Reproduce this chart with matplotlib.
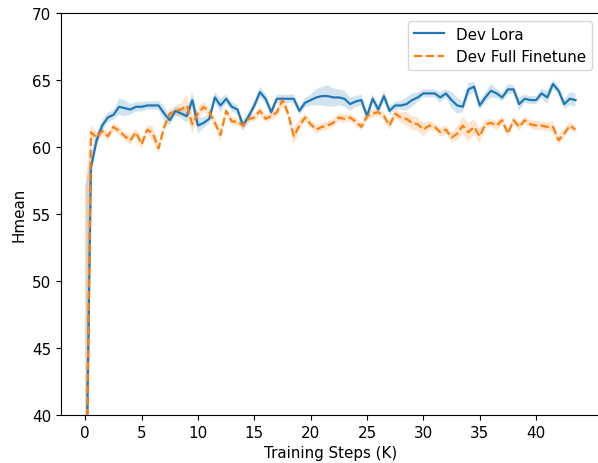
import numpy as np
import matplotlib
matplotlib.use("Agg")
import matplotlib.pyplot as plt

# training steps in K (every 0.5K)
steps = np.arange(0, 44, 0.5)

lora_mean = [30.0, 58.5, 60.5, 61.6, 62.2, 62.4, 63.0, 62.9, 62.8, 63.0,
             63.0, 63.1, 63.1, 63.1, 62.5, 62.0, 62.7, 62.5, 62.3, 63.5,
             61.6, 61.8, 62.1, 63.7, 63.1, 63.6, 63.0, 62.8, 61.6, 62.3,
             63.1, 64.1, 63.6, 62.6, 63.6, 63.6, 63.6, 63.6, 62.7, 63.3,
             63.5, 63.7, 63.8, 63.8, 63.7, 63.7, 63.6, 63.2, 63.4, 63.5,
             62.3, 63.6, 62.8, 63.8, 62.7, 63.1, 63.1, 63.2, 63.5, 63.7,
             64.0, 64.0, 64.0, 63.7, 64.0, 63.5, 63.1, 63.0, 64.3, 64.5,
             63.1, 63.7, 64.2, 64.0, 63.7, 64.3, 64.3, 63.2, 63.6, 63.5,
             63.5, 64.0, 63.7, 64.7, 64.2, 63.2, 63.6, 63.5]

full_mean = [29.0, 61.1, 60.7, 61.2, 60.8, 61.5, 61.2, 60.8, 60.5, 61.1,
             60.2, 61.3, 61.0, 59.9, 61.5, 62.5, 62.7, 62.8, 63.1, 61.7,
             62.5, 63.0, 62.6, 61.8, 60.9, 62.7, 61.9, 61.9, 61.6, 62.1,
             62.2, 62.7, 62.1, 62.3, 62.6, 63.5, 62.5, 60.8, 61.6, 62.2,
             61.7, 61.3, 61.5, 61.6, 61.8, 62.2, 62.1, 62.2, 61.9, 61.5,
             62.3, 62.5, 62.6, 62.3, 61.6, 62.5, 62.2, 62.1, 61.8, 61.7,
             61.3, 61.6, 61.5, 61.1, 61.3, 60.7, 61.0, 61.6, 61.1, 61.5,
             60.8, 61.7, 61.8, 61.6, 62.0, 61.0, 62.0, 61.5, 62.0, 61.7,
             61.6, 61.6, 61.5, 61.5, 60.5, 61.0, 61.6, 61.3]

# half width of the shaded band
lora_err = [27.0, 1.0, 0.5, 0.4, 0.35, 0.35, 0.6, 0.6, 0.4, 0.35,
            0.35, 0.3, 0.3, 0.35, 0.5, 0.4, 0.35, 0.35, 0.5, 0.6,
            0.6, 0.4, 0.35, 0.4, 0.5, 0.35, 0.35, 0.35, 0.4, 0.35,
            0.35, 0.4, 0.35, 0.35, 0.3, 0.3, 0.3, 0.35, 0.3, 0.35,
            0.4, 0.6, 0.7, 0.8, 0.7, 0.6, 0.6, 0.5, 0.4, 0.4,
            0.4, 0.35, 0.35, 0.4, 0.35, 0.3, 0.3, 0.5, 0.5, 0.35,
            0.3, 0.3, 0.3, 0.4, 0.3, 0.6, 0.6, 0.4, 0.5, 0.35,
            0.35, 0.35, 0.5, 0.35, 0.3, 0.4, 0.3, 0.5, 0.3, 0.3,
            0.3, 0.35, 0.5, 0.35, 0.3, 0.35, 0.5, 0.5]

full_err = [28.0, 0.6, 0.4, 0.3, 0.3, 0.3, 0.3, 0.3, 0.35, 0.3,
            0.4, 0.3, 0.6, 0.4, 0.35, 0.3, 0.35, 0.5, 0.8, 0.7,
            0.4, 0.4, 0.35, 0.35, 0.5, 0.3, 0.3, 0.3, 0.3, 0.3,
            0.3, 0.3, 0.3, 0.3, 0.35, 0.4, 0.35, 0.6, 0.4, 0.3,
            0.3, 0.3, 0.3, 0.3, 0.3, 0.3, 0.3, 0.3, 0.3, 0.3,
            0.3, 0.3, 0.3, 0.3, 0.35, 0.35, 0.4, 0.5, 0.5, 0.5,
            0.5, 0.35, 0.3, 0.3, 0.35, 0.35, 0.5, 0.7, 0.7, 0.6,
            0.5, 0.35, 0.3, 0.35, 0.3, 0.3, 0.3, 0.3, 0.3, 0.3,
            0.35, 0.3, 0.35, 0.4, 0.4, 0.3, 0.3, 0.3]

blue = '#1f77b4'
orange = '#ff7f0e'

# the reference looks like it was drawn slightly larger and scaled down
plt.rcParams['font.size'] = 10.9

fig = plt.figure(figsize=(5.98, 4.64), dpi=100)
ax = fig.add_axes([60.8 / 598, 1 - 416 / 464, (600 - 60.8) / 598, (416 - 14) / 464])

lm, le = np.array(lora_mean), np.array(lora_err)
fm, fe = np.array(full_mean), np.array(full_err)

ax.fill_between(steps, lm - le, lm + le, color=blue, alpha=0.2, linewidth=0)
ax.fill_between(steps, fm - fe, fm + fe, color=orange, alpha=0.2, linewidth=0)
ax.plot(steps, lm, color=blue, linewidth=1.6, label='Dev Lora')
ax.plot(steps, fm, color=orange, linewidth=1.6, linestyle='--', label='Dev Full Finetune')

ax.set_ylim(40, 70)
ax.set_xticks(range(0, 45, 5))
ax.set_xlabel('Training Steps (K)')
ax.set_ylabel('Hmean')
ax.legend(loc='upper right')

fig.savefig('out.png', dpi=100)
